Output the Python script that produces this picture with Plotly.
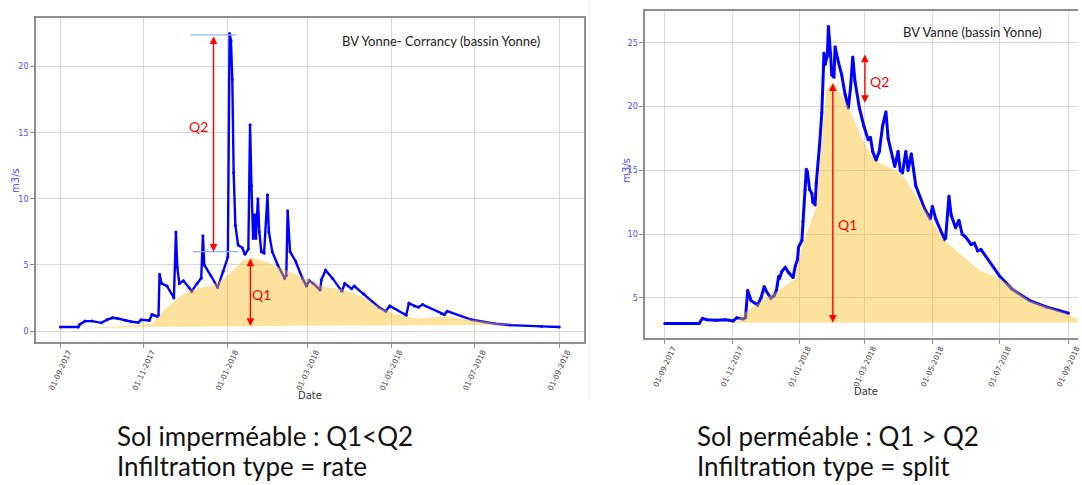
import plotly.graph_objects as go

# ---------------- data ----------------
tick_dates = ["2017-09-01", "2017-11-01", "2018-01-01", "2018-03-01",
              "2018-05-01", "2018-07-01", "2018-09-01"]
tick_text = ["01-09-2017", "01-11-2017", "01-01-2018", "01-03-2018",
             "01-05-2018", "01-07-2018", "01-09-2018"]

# BV Yonne - Corrancy : observed discharge (m3/s)
yonne_dates = [
    "2017-09-01", "2017-09-14", "2017-09-15", "2017-09-19", "2017-09-24", "2017-10-01",
    "2017-10-05", "2017-10-09", "2017-10-13", "2017-10-19", "2017-10-23", "2017-10-28",
    "2017-10-30", "2017-11-05", "2017-11-07", "2017-11-11", "2017-11-11 18:00", "2017-11-12 12:00",
    "2017-11-14", "2017-11-18", "2017-11-23", "2017-11-24 12:00", "2017-11-25 12:00", "2017-11-27",
    "2017-11-30", "2017-12-04", "2017-12-06", "2017-12-10", "2017-12-13", "2017-12-14 06:00",
    "2017-12-15 06:00", "2017-12-20", "2017-12-25", "2017-12-29", "2018-01-01 12:00", "2018-01-02 18:00",
    "2018-01-03 18:00", "2018-01-04 18:00", "2018-01-05 18:00", "2018-01-07", "2018-01-09", "2018-01-12",
    "2018-01-14", "2018-01-16 12:00", "2018-01-17 18:00", "2018-01-18 18:00", "2018-01-20", "2018-01-21",
    "2018-01-22", "2018-01-23 12:00", "2018-01-24 12:00", "2018-01-26", "2018-01-28", "2018-01-30 12:00",
    "2018-01-31 12:00", "2018-02-03", "2018-02-07", "2018-02-12", "2018-02-13 06:00", "2018-02-14 06:00",
    "2018-02-16", "2018-02-20", "2018-02-25", "2018-02-28", "2018-03-02", "2018-03-05",
    "2018-03-10", "2018-03-11", "2018-03-14", "2018-03-19", "2018-03-26", "2018-03-28",
    "2018-04-02", "2018-04-04", "2018-04-11", "2018-04-22", "2018-04-27", "2018-04-30",
    "2018-05-12", "2018-05-14", "2018-05-18", "2018-05-21", "2018-05-24", "2018-06-07",
    "2018-06-09", "2018-06-11", "2018-06-29", "2018-07-16", "2018-07-27", "2018-08-19",
    "2018-09-01",
]
yonne_flow = [
    0.3, 0.3, 0.5, 0.75, 0.75, 0.62,
    0.85, 1.0, 0.95, 0.8, 0.7, 0.65,
    0.85, 0.8, 1.25, 1.1, 1.2, 4.3,
    3.6, 3.4, 2.5, 7.5, 4.8, 3.6,
    3.8, 3.3, 3.0, 3.6, 4.0, 7.2,
    5.0, 4.2, 3.3, 4.5, 5.6, 22.5,
    22.0, 19.0, 12.0, 8.0, 6.5, 6.3,
    5.8, 6.2, 15.6, 11.0, 7.0, 8.8,
    7.0, 10.0, 7.5, 6.0, 5.9, 10.3,
    7.5, 6.0, 5.0, 4.0, 4.2, 9.1,
    6.0, 5.3, 4.0, 3.4, 3.8, 3.6,
    3.1, 3.9, 4.6, 4.0, 3.0, 3.6,
    3.2, 3.4, 2.8, 1.8, 1.5, 1.9,
    1.2, 2.1, 1.9, 1.8, 2.0, 1.3,
    1.25, 1.5, 0.85, 0.55, 0.45, 0.35,
    0.3,
]

# BV Yonne - Corrancy : baseflow envelope (upper and lower edges)
yonne_base_dates = [
    "2017-09-18", "2017-10-10", "2017-11-07", "2017-11-16", "2017-11-27", "2017-12-05",
    "2017-12-22", "2017-12-30", "2018-01-13", "2018-01-19", "2018-01-30", "2018-02-13",
    "2018-02-27", "2018-03-13", "2018-03-27", "2018-04-10", "2018-04-24", "2018-05-02",
    "2018-05-20", "2018-06-10", "2018-06-30", "2018-07-17", "2018-07-29",
]
yonne_base_top = [
    0.22, 0.35, 0.55, 1.6, 2.6, 3.1,
    3.5, 4.0, 5.4, 5.55, 5.2, 4.6,
    4.0, 3.35, 3.15, 2.6, 1.7, 1.35,
    0.95, 1.1, 0.85, 0.6, 0.47,
]
yonne_base_low_dates = ["2017-09-18", "2017-11-10", "2018-01-15", "2018-04-15", "2018-07-29"]
yonne_base_low = [0.2, 0.33, 0.37, 0.41, 0.45]

# BV Vanne : observed discharge (m3/s)
vanne_dates = [
    "2017-09-01", "2017-10-02", "2017-10-05", "2017-10-09", "2017-10-18", "2017-10-26",
    "2017-11-02", "2017-11-05", "2017-11-11", "2017-11-13", "2017-11-15", "2017-11-18",
    "2017-11-24", "2017-11-27", "2017-11-30", "2017-12-02", "2017-12-06", "2017-12-09",
    "2017-12-11", "2017-12-13", "2017-12-14", "2017-12-16", "2017-12-19", "2017-12-22",
    "2017-12-26", "2017-12-28", "2017-12-30", "2017-12-31", "2018-01-03", "2018-01-04",
    "2018-01-06", "2018-01-07", "2018-01-08", "2018-01-10", "2018-01-12", "2018-01-13",
    "2018-01-15", "2018-01-16", "2018-01-19", "2018-01-21", "2018-01-23", "2018-01-24",
    "2018-01-26", "2018-01-27", "2018-01-29", "2018-01-30", "2018-02-01", "2018-02-02",
    "2018-02-05", "2018-02-08", "2018-02-11", "2018-02-14", "2018-02-16", "2018-02-18",
    "2018-02-20", "2018-02-24", "2018-02-28", "2018-03-04", "2018-03-06", "2018-03-08",
    "2018-03-11", "2018-03-14", "2018-03-17", "2018-03-20", "2018-03-22", "2018-03-28",
    "2018-03-31", "2018-04-02", "2018-04-04", "2018-04-07", "2018-04-09", "2018-04-12",
    "2018-04-16", "2018-04-24", "2018-04-29", "2018-05-01", "2018-05-04", "2018-05-12",
    "2018-05-13", "2018-05-16", "2018-05-18", "2018-05-22", "2018-05-25", "2018-05-28",
    "2018-05-31", "2018-06-05", "2018-06-08", "2018-06-11", "2018-06-14", "2018-07-01",
    "2018-07-12", "2018-07-28", "2018-08-12", "2018-09-01",
]
vanne_flow = [
    3.0, 3.0, 3.4, 3.3, 3.25, 3.3,
    3.2, 3.45, 3.35, 3.45, 5.6, 4.8,
    4.45, 5.0, 5.9, 5.5, 5.0, 5.2,
    5.6, 6.7, 6.6, 7.1, 7.4, 7.0,
    6.6, 7.5, 8.0, 9.0, 9.5, 11.0,
    13.5, 15.1, 14.9, 13.5, 13.2, 12.5,
    12.3, 14.0, 17.0, 19.5, 24.2, 23.3,
    24.0, 26.3, 24.0, 22.5, 22.3, 24.7,
    23.5, 22.5, 21.0, 19.9, 21.5, 23.9,
    22.0, 19.9, 18.5, 17.4, 17.6, 16.5,
    15.8, 16.5, 18.5, 19.6, 17.5, 15.3,
    16.5, 15.0, 14.8, 16.5, 15.0, 16.3,
    13.8, 12.0, 11.2, 12.2, 11.2, 9.6,
    9.7, 13.0, 11.5, 10.5, 11.1, 10.0,
    9.8, 9.2, 9.3, 8.7, 8.8, 6.7,
    5.7, 4.8, 4.3, 3.8,
]

# BV Vanne : baseflow envelope (upper and lower edges)
vanne_base_dates = [
    "2017-11-04", "2017-11-13", "2017-11-29", "2017-12-13", "2017-12-28", "2018-01-03",
    "2018-01-16", "2018-01-25", "2018-01-31", "2018-02-14", "2018-02-27", "2018-03-10",
    "2018-04-03", "2018-04-28", "2018-05-12", "2018-06-12", "2018-07-02", "2018-07-28",
    "2018-09-01", "2018-09-12",
]
vanne_base_top = [
    3.1, 3.9, 4.85, 5.6, 6.5, 9.0,
    12.2, 21.3, 22.0, 20.0, 17.4, 15.8,
    14.8, 11.4, 9.5, 7.2, 6.5, 4.8,
    3.75, 3.2,
]
vanne_base_low_dates = ["2017-11-04", "2018-09-12"]
vanne_base_low = [3.05, 3.05]

# Q1 / Q2 markers: (date, low value, high value)
yonne_q1 = ("2018-01-18", 0.38, 5.6)
yonne_q2 = ("2017-12-22", 6.0, 22.4)
vanne_q1 = ("2018-01-31", 3.06, 21.95)
vanne_q2 = ("2018-03-01", 20.3, 24.2)

# ---------------- styling helpers ----------------
W, H = 1082, 485
BLUE = "#0000ff"
FILL = "rgba(250,190,40,0.45)"
FRAME = "#8f8f8f"
GRID = "#d8d8d8"
TICKBLUE = "#4b4bff"


def px(x):
    return x / W


def py(y):
    return 1 - y / H


fig = go.Figure()

# observed discharge lines, fill drawn on top (semi-transparent)
fig.add_trace(go.Scatter(x=yonne_dates, y=yonne_flow, mode="lines+markers",
                         line=dict(color=BLUE, width=2.4), marker=dict(size=3, color=BLUE),
                         xaxis="x", yaxis="y", showlegend=False, hoverinfo="skip"))
fig.add_trace(go.Scatter(x=yonne_base_dates + yonne_base_low_dates[::-1],
                         y=yonne_base_top + yonne_base_low[::-1],
                         fill="toself", fillcolor=FILL, mode="none",
                         xaxis="x", yaxis="y", showlegend=False, hoverinfo="skip"))

fig.add_trace(go.Scatter(x=vanne_dates, y=vanne_flow, mode="lines+markers",
                         line=dict(color=BLUE, width=3), marker=dict(size=3, color=BLUE),
                         xaxis="x2", yaxis="y2", showlegend=False, hoverinfo="skip"))
fig.add_trace(go.Scatter(x=vanne_base_dates + vanne_base_low_dates[::-1],
                         y=vanne_base_top + vanne_base_low[::-1],
                         fill="toself", fillcolor=FILL, mode="none",
                         xaxis="x2", yaxis="y2", showlegend=False, hoverinfo="skip"))

# axes
xcommon = dict(type="date", tickmode="array", tickvals=tick_dates, ticktext=tick_text,
               tickangle=-65, tickfont=dict(family="DejaVu Sans", size=7.5, color="#444"),
               showgrid=True, gridcolor=GRID, gridwidth=1.2,
               showline=True, linecolor=FRAME, linewidth=1.5, mirror=True,
               ticks="outside", ticklen=4, tickcolor=FRAME, zeroline=False,
               ticklabelshift=8, ticklabelstandoff=-3, ticklabeloverflow="allow")
ycommon = dict(tickmode="linear", dtick=5, tick0=0,
               tickfont=dict(family="DejaVu Sans", size=8, color=TICKBLUE),
               showgrid=True, gridcolor=GRID, gridwidth=1.2,
               showline=True, linecolor=FRAME, linewidth=1.5,
               ticks="outside", ticklen=4, tickcolor=FRAME, zeroline=False)

fig.update_layout(
    width=W, height=H, autosize=False,
    margin=dict(l=0, r=0, t=0, b=0),
    paper_bgcolor="white", plot_bgcolor="white",
    xaxis=dict(xcommon, domain=[px(36), px(586)], anchor="y",
               range=["2017-08-14", "2018-09-19"]),
    yaxis=dict(ycommon, domain=[py(342), py(18)], anchor="x",
               range=[-0.83, 23.68], mirror=True),
    xaxis2=dict(xcommon, domain=[px(647.5), 1.0], anchor="y2",
                range=["2017-08-14 05:00", "2018-09-09 17:00"]),
    yaxis2=dict(ycommon, domain=[py(338.3), py(11)], anchor="x2",
                range=[1.84, 27.5], mirror=False),
)

# Q2 reference levels (left chart)
fig.add_shape(type="line", xref="x", yref="y", x0="2017-12-05", x1="2018-01-08",
              y0=yonne_q2[2], y1=yonne_q2[2], line=dict(color="#8fb0ff", width=1.2))
fig.add_shape(type="line", xref="x", yref="y", x0="2017-12-07", x1="2018-01-09",
              y0=yonne_q2[1], y1=yonne_q2[1], line=dict(color="#8fb0ff", width=1.2))

# faint border of the left panel
fig.add_shape(type="line", xref="paper", yref="paper", x0=px(592), x1=px(592),
              y0=py(400), y1=1, line=dict(color="#efefef", width=1))


def double_arrow(xa, ya, q):
    d, lo, hi = q
    fig.add_annotation(x=d, y=lo, ax=d, ay=hi, xref=xa, yref=ya, axref=xa, ayref=ya,
                       text="", showarrow=True, arrowside="end+start",
                       arrowhead=2, startarrowhead=2, arrowsize=1.1, startarrowsize=1.1,
                       arrowwidth=1.4, arrowcolor="#ff0000", standoff=0, startstandoff=0)


double_arrow("x", "y", yonne_q1)
double_arrow("x", "y", yonne_q2)
double_arrow("x2", "y2", vanne_q1)
double_arrow("x2", "y2", vanne_q2)


def label(x, y, txt, font, xref="paper", yref="paper", angle=0, xanchor="center"):
    fig.add_annotation(x=x, y=y, xref=xref, yref=yref, text=txt, showarrow=False,
                       font=font, textangle=angle, xanchor=xanchor, yanchor="middle")


qfont = dict(family="Lato", size=14, color="#ff0000")
label("2017-12-11", 15.5, "Q2", qfont, "x", "y")
label("2018-01-26", 2.8, "Q1", qfont, "x", "y")
label("2018-03-14", 21.95, "Q2", qfont, "x2", "y2")
label("2018-02-13", 10.8, "Q1", qfont, "x2", "y2")

# panel titles
tfont = dict(family="Lato", size=13, color="#222")
label(px(443), py(40.5), "BV Yonne- Corrancy (bassin Yonne)", tfont)
label(px(976), py(32.3), "BV Vanne (bassin Yonne)", tfont)

# axis titles
lfont = dict(family="DejaVu Sans", size=10, color="#333")
yfont = dict(family="DejaVu Sans", size=10, color=TICKBLUE)
label(px(311), py(395), "Date", lfont)
label(px(869), py(391), "Date", lfont)
label(px(15), py(180), "m3/s", yfont, angle=-90)
label(px(628), py(170), "m3/s", yfont, angle=-90)

# captions below the charts
cfont = dict(family="Lato", size=26, color="#111")
captions = [
    (115, 436, "Sol imperméable : Q1<Q2"),
    (115, 466, "Infiltration type = rate"),
    (698, 436, "Sol perméable : Q1 > Q2"),
    (698, 466, "Infiltration type = split"),
]
for cx, cy, txt in captions:
    label(px(cx), py(cy), txt, cfont, xanchor="left")

fig.write_html("out.html")
